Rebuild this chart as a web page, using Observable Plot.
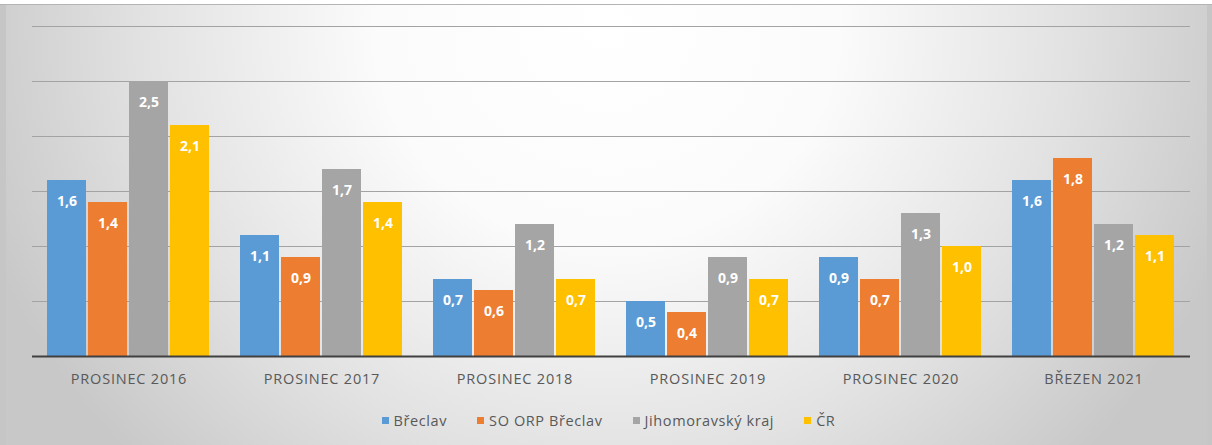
<!DOCTYPE html>
<html>
<head>
<meta charset="utf-8">
<script src="https://cdn.jsdelivr.net/npm/d3@7"></script>
<script src="https://cdn.jsdelivr.net/npm/@observablehq/plot@0.6"></script>
<style>
  html, body { margin: 0; padding: 0; }
  body { width: 1212px; height: 445px; overflow: hidden; background: #c6c6c6; position: relative; font-family: "Open Sans", "Noto Sans", sans-serif; }
  #topstrip { position: absolute; left: 0; top: 0; width: 1212px; height: 4px; background: #ffffff; border-bottom: 1px solid #b4b4b4; }
  #chart { position: absolute; left: 6px; top: 5px; width: 1201px; height: 440px;
    background: radial-gradient(ellipse 660px 620px at 50% 5%, #ffffff 0%, #fbfbfb 35%, #e2e2e2 70%, #c8c8c8 100%); }
  #chart svg { background: transparent; display: block; }
  #chart svg g[aria-label="fx-axis tick label"] text { letter-spacing: 0.8px; }
  #legend { display: flex; justify-content: center; align-items: center; gap: 30px; margin-top: 12px; padding-left: 4px;
    font-size: 14.5px; letter-spacing: 0.6px; color: #595959; }
  .item { display: flex; align-items: center; gap: 5px; }
  .sw { width: 7px; height: 7px; display: inline-block; }
</style>
</head>
<body>
<div id="topstrip"></div>
<div id="chart"></div>
<script>
const categories = ["PROSINEC 2016", "PROSINEC 2017", "PROSINEC 2018", "PROSINEC 2019", "PROSINEC 2020", "BŘEZEN 2021"];
const series = ["Břeclav", "SO ORP Břeclav", "Jihomoravský kraj", "ČR"];
const breclav = [1.6, 1.1, 0.7, 0.5, 0.9, 1.6];
const soOrpBreclav = [1.4, 0.9, 0.6, 0.4, 0.7, 1.8];
const jihomoravsky = [2.5, 1.7, 1.2, 0.9, 1.3, 1.2];
const cr = [2.1, 1.4, 0.7, 0.7, 1.0, 1.1];
const gridTicks = [0.5, 1, 1.5, 2, 2.5, 3];
const colors = ["#5b9bd5", "#ed7d31", "#a5a5a5", "#ffc000"];

const seriesValues = [breclav, soOrpBreclav, jihomoravsky, cr];
const data = [];
categories.forEach((c, i) => {
  series.forEach((s, j) => data.push({cat: c, series: s, value: seriesValues[j][i]}));
});

const fmt = v => v.toFixed(1).replace(".", ",");

const plot = Plot.plot({
  width: 1201,
  height: 394,
  marginLeft: 24,
  marginRight: 14,
  marginTop: 21,
  marginBottom: 43,
  style: {fontFamily: "'Open Sans', 'Noto Sans', sans-serif", fontSize: "14.5px", color: "#595959", background: "transparent"},
  fx: {domain: categories, paddingInner: 0.144, paddingOuter: 0.072, label: null, tickSize: 0, tickPadding: 17, axis: "bottom"},
  x: {domain: series, paddingInner: 0.04, paddingOuter: 0, axis: null},
  y: {domain: [0, 3], axis: null},
  color: {domain: series, range: colors},
  marks: [
    Plot.ruleY(gridTicks, {stroke: "#a3a3a3", strokeWidth: 1, insetLeft: -14, insetRight: -14}),
    Plot.barY(data, {fx: "cat", x: "series", y: "value", fill: "series"}),
    Plot.text(data, {fx: "cat", x: "series", y: "value", text: d => fmt(d.value), dy: 21, fill: "white", fontWeight: "bold", fontSize: 14}),
    Plot.ruleY([0], {stroke: "#404040", strokeWidth: 2, insetLeft: -14, insetRight: -14})
  ]
});
document.getElementById("chart").appendChild(plot);

const legend = document.createElement("div");
legend.id = "legend";
series.forEach((s, i) => {
  const item = document.createElement("div");
  item.className = "item";
  const sw = document.createElement("span");
  sw.className = "sw";
  sw.style.background = colors[i];
  const t = document.createElement("span");
  t.textContent = s;
  item.appendChild(sw);
  item.appendChild(t);
  legend.appendChild(item);
});
document.getElementById("chart").appendChild(legend);
</script>
</body>
</html>
